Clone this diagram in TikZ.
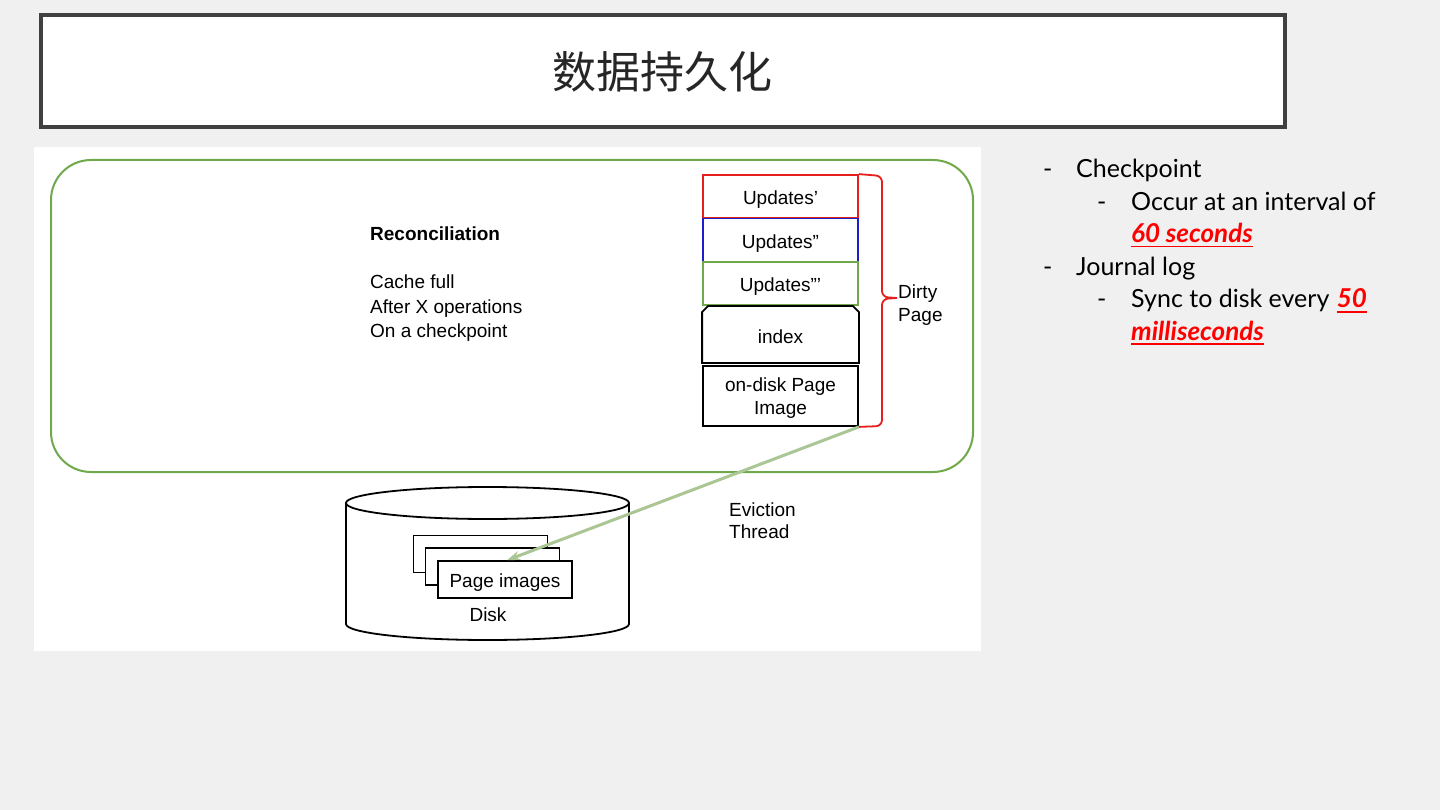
\documentclass[tikz,border=0pt]{standalone}
\usepackage{fontspec}
\setmainfont{Liberation Sans}
\newfontfamily\cjkfont{Noto Sans CJK SC}
\newfontfamily\gillfont{Lato}
\usetikzlibrary{arrows.meta,calc}
\definecolor{bgc}{RGB}{240,240,240}
\definecolor{framec}{RGB}{64,64,64}
\definecolor{grn}{RGB}{112,168,76}
\definecolor{redc}{RGB}{230,30,30}
\definecolor{bluec}{RGB}{30,30,200}
\definecolor{arrowc}{RGB}{170,198,148}
\definecolor{hl}{RGB}{255,0,0}
\newsavebox\hlbox
\newcommand\hlt[1]{{\color{hl}\sbox\hlbox{\color{hl}\fontsize{26}{30}\selectfont\bfseries\itshape #1}\rlap{\color{hl}\rule[-4.5pt]{\wd\hlbox}{1.8pt}}\usebox\hlbox}}
\begin{document}
\begin{tikzpicture}[x=1pt,y=-1pt,
  stackbox/.style={draw, line width=1.8pt, minimum width=155pt, minimum height=43pt, inner sep=0pt, font=\fontsize{19}{22}\selectfont, text height=17pt, text depth=0pt},
  pbox/.style={draw, line width=1.6pt, fill=white, minimum width=134pt, minimum height=37pt, inner sep=0pt, font=\fontsize{19}{22}\selectfont, text height=16pt, text depth=0pt},
  lbl/.style={inner sep=0pt, font=\fontsize{19}{24.5}\selectfont, align=left},
  rt/.style={inner sep=0pt, anchor=base west, font=\gillfont\fontsize{25}{30}\selectfont}
]
\useasboundingbox (0,0) rectangle (1440,810);
\fill[bgc] (0,0) rectangle (1440,810);
% title
\node[draw=framec, line width=4pt, fill=white, minimum width=1244pt, minimum height=112pt, inner sep=0pt] (title) at (663,71) {};
\node[font=\cjkfont\fontsize{44}{48}\selectfont, text=black!85] (ttext) at (662,72) {数据持久化};
% diagram panel
\fill[white] (34,147) rectangle (981,651);
\node[draw=grn, line width=2pt, rounded corners=40pt, minimum width=922pt, minimum height=312pt, inner sep=0pt] (cache) at (512,316) {};
% left text
\node[lbl, anchor=west, font=\bfseries\fontsize{19}{24.5}\selectfont] (recon) at (370,234) {Reconciliation};
\node[lbl, anchor=north west] (conds) at (370,275) {Cache full\\After X operations\\On a checkpoint};
% stack
\node[stackbox, draw=redc] (u1) at (780.5,196.5) {Updates'};
\node[stackbox, draw=bluec] (u2) at (780.5,240) {Updates''};
\node[stackbox, draw=grn] (u3) at (780.5,283.5) {Updates'''};
\node[stackbox, draw=none, minimum height=55pt] (idx) at (780.5,334.5) {index};
\draw[line width=1.8pt] ($(idx.north west)+(0,6)$) -- ($(idx.north west)+(6,0)$) -- ($(idx.north east)+(-6,0)$) -- ($(idx.north east)+(0,6)$) -- (idx.south east) -- (idx.south west) -- cycle;
\node[stackbox, minimum height=60pt] (odp) at (780.5,396) {};
\node[lbl, align=center, font=\fontsize{19}{23}\selectfont] (odpt) at (780.5,398.5) {on-disk Page\\Image};
% brace
\draw[redc, line width=1.8pt, rounded corners=6pt] (u1.north east) -- (882,176) -- (882,297) -- (897,298);
\draw[redc, line width=1.8pt, rounded corners=6pt] (odp.south east) -- (882,426) -- (882,299) -- (897,298);
\node[lbl, anchor=north west, font=\fontsize{19}{23}\selectfont] (dirty) at (898,284.5) {Dirty\\Page};
% disk
\begin{scope}[line width=1.8pt]
\draw[fill=white] (346,503) -- (346,624) arc[start angle=180, end angle=360, x radius=141.5pt, y radius=16pt] -- (629,503);
\draw (487.5,503) ellipse[x radius=141.5pt, y radius=16pt];
\end{scope}
\node[pbox] (p1) at (480.5,554) {};
\node[pbox] (p2) at (492.5,566.5) {};
\node[pbox] (p3) at (505,579.5) {Page images};
\node[lbl] (disk) at (488,615) {Disk};
% arrow
\draw[arrowc, line width=3pt, -{Stealth[length=13pt,width=9pt]}] (odp.south east) -- ($(p3.north)+(2,0)$);
\node[lbl, anchor=north west, font=\fontsize{19}{22}\selectfont] (evict) at (729,503) {Eviction\\Thread};
% right text
\node[rt] (d1) at (1043,178) {-};
\node[rt] (t1) at (1076,178) {Checkpoint};
\node[rt] (d2) at (1097,211) {-};
\node[rt] (t2) at (1131,211) {Occur at an interval of};
\node[rt] (t3) at (1131,243) {\hlt{60 seconds}};
\node[rt] (d3) at (1043,276) {-};
\node[rt] (t4) at (1076,276) {Journal log};
\node[rt] (d4) at (1097,308) {-};
\node[rt] (t5) at (1131,308) {Sync to disk every};
\node[rt] (t5b) at ($(t5.base east)+(7,0)$) {\hlt{50}};
\node[rt] (t6) at (1131,340) {\hlt{milliseconds}};
\end{tikzpicture}
\end{document}
